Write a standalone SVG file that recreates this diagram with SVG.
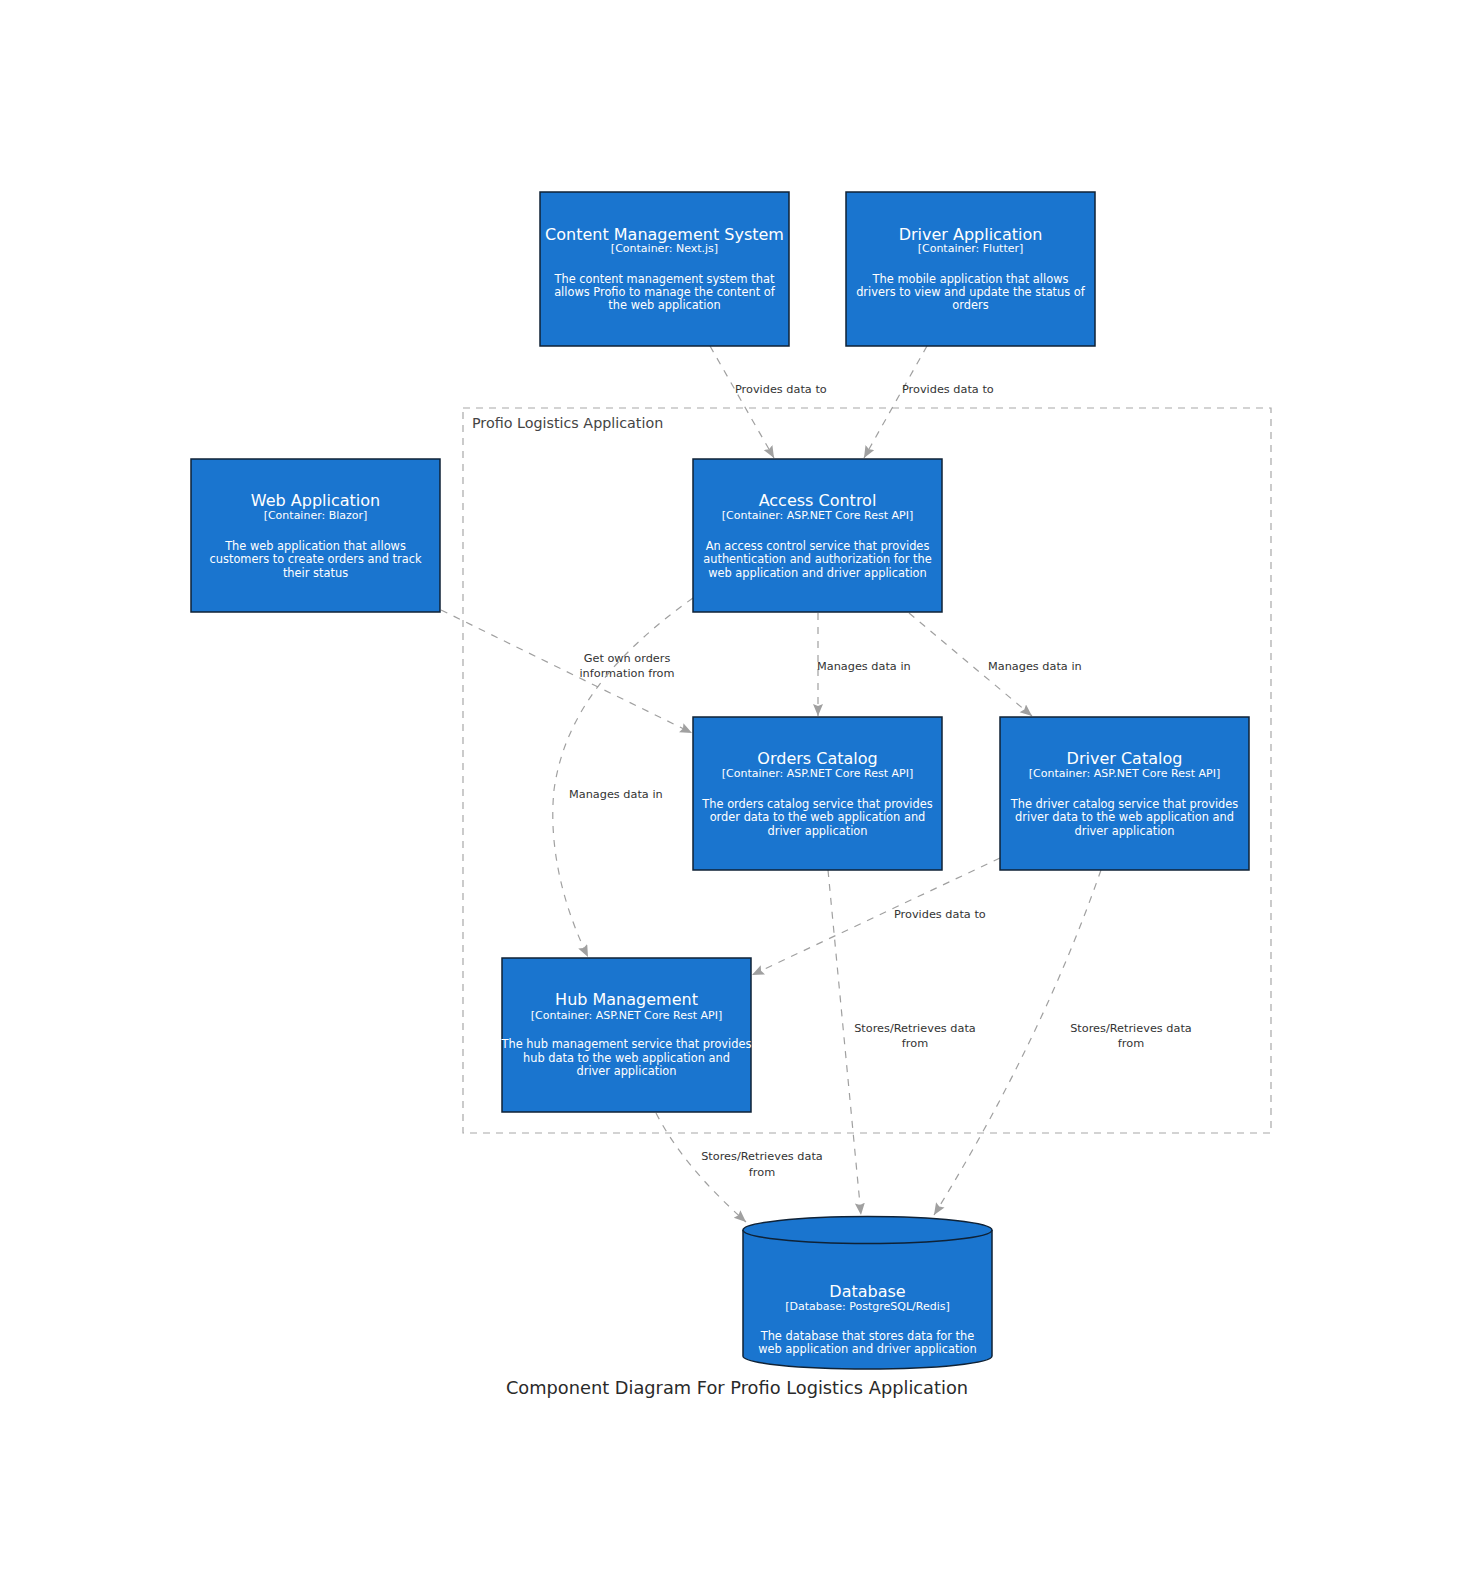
<svg xmlns="http://www.w3.org/2000/svg" width="1474" height="1596" viewBox="0 0 1474 1596">
<style>
.box{fill:#1A75CF;stroke:#0F2236;stroke-width:1.5}
.t{font-family:"DejaVu Sans",Verdana,sans-serif;fill:#FFFFFF;text-anchor:middle}
.tt{font-size:16px}
.ts{font-size:11px}
.td{font-size:11.4px}
.edge{fill:none;stroke:#A0A0A0;stroke-width:1.2;stroke-dasharray:7 7}
.lbl{font-family:"DejaVu Sans",Verdana,sans-serif;font-size:11.3px;fill:#333333}
.bnd{fill:none;stroke:#A8A8A8;stroke-width:1.2;stroke-dasharray:7 6}
</style>
<defs>
<marker id="arr" markerUnits="userSpaceOnUse" markerWidth="14" markerHeight="12" refX="12" refY="5" orient="auto">
<path d="M0,0 L12,5 L0,10 L2,5 Z" fill="#A0A0A0"/>
</marker>
</defs>
<rect width="1474" height="1596" fill="#FFFFFF"/>

<g id="boundary">
<rect class="bnd" x="463" y="408" width="808" height="725"/>
<text x="472" y="428" font-family="DejaVu Sans,Verdana,sans-serif" font-size="14.3px" fill="#444444">Profio Logistics Application</text>
</g>

<g id="connectors">
<path class="edge" marker-end="url(#arr)" d="M710,346 L774,458"/>
<text class="lbl" x="735" y="393">Provides data to</text>
<path class="edge" marker-end="url(#arr)" d="M927,346 L864,458"/>
<text class="lbl" x="902" y="393">Provides data to</text>
<path class="edge" marker-end="url(#arr)" d="M441,610 L692,733"/>
<text class="lbl" x="627" y="662" text-anchor="middle">Get own orders</text>
<text class="lbl" x="627" y="677" text-anchor="middle">information from</text>
<path class="edge" marker-end="url(#arr)" d="M818,613 L818,716"/>
<text class="lbl" x="817" y="670">Manages data in</text>
<path class="edge" marker-end="url(#arr)" d="M909,613 L1032,716"/>
<text class="lbl" x="988" y="670">Manages data in</text>
<path class="edge" marker-end="url(#arr)" d="M693,598 C620,650 565,710 554,790 C548,850 565,910 588,957"/>
<text class="lbl" x="569" y="798">Manages data in</text>
<path class="edge" marker-end="url(#arr)" d="M1000,858 L752,975"/>
<text class="lbl" x="894" y="918">Provides data to</text>
<path class="edge" marker-end="url(#arr)" d="M828,870 L861,1215"/>
<text class="lbl" x="915" y="1032" text-anchor="middle">Stores/Retrieves data</text>
<text class="lbl" x="915" y="1047" text-anchor="middle">from</text>
<path class="edge" marker-end="url(#arr)" d="M1101,870 Q1041,1042 934,1215"/>
<text class="lbl" x="1131" y="1032" text-anchor="middle">Stores/Retrieves data</text>
<text class="lbl" x="1131" y="1047" text-anchor="middle">from</text>
<path class="edge" marker-end="url(#arr)" d="M656,1113 Q683,1166 746,1222"/>
<text class="lbl" x="762" y="1160" text-anchor="middle">Stores/Retrieves data</text>
<text class="lbl" x="762" y="1176" text-anchor="middle">from</text>
</g>

<g id="cms">
<rect class="box" x="540" y="192" width="249" height="154"/>
<text class="t tt" x="664.5" y="240">Content Management System</text>
<text class="t ts" x="664.5" y="252">[Container: Next.js]</text>
<text class="t td" x="664.5" y="283">The content management system that</text>
<text class="t td" x="664.5" y="296">allows Profio to manage the content of</text>
<text class="t td" x="664.5" y="309">the web application</text>
</g>

<g id="driver-app">
<rect class="box" x="846" y="192" width="249" height="154"/>
<text class="t tt" x="970.5" y="240">Driver Application</text>
<text class="t ts" x="970.5" y="252">[Container: Flutter]</text>
<text class="t td" x="970.5" y="283">The mobile application that allows</text>
<text class="t td" x="970.5" y="296">drivers to view and update the status of</text>
<text class="t td" x="970.5" y="309">orders</text>
</g>

<g id="web-app">
<rect class="box" x="191" y="459" width="249" height="153"/>
<text class="t tt" x="315.5" y="506">Web Application</text>
<text class="t ts" x="315.5" y="519">[Container: Blazor]</text>
<text class="t td" x="315.5" y="550">The web application that allows</text>
<text class="t td" x="315.5" y="563">customers to create orders and track</text>
<text class="t td" x="315.5" y="577">their status</text>
</g>

<g id="access-control">
<rect class="box" x="693" y="459" width="249" height="153"/>
<text class="t tt" x="817.5" y="506">Access Control</text>
<text class="t ts" x="817.5" y="519">[Container: ASP.NET Core Rest API]</text>
<text class="t td" x="817.5" y="550">An access control service that provides</text>
<text class="t td" x="817.5" y="563">authentication and authorization for the</text>
<text class="t td" x="817.5" y="577">web application and driver application</text>
</g>

<g id="orders-catalog">
<rect class="box" x="693" y="717" width="249" height="153"/>
<text class="t tt" x="817.5" y="764">Orders Catalog</text>
<text class="t ts" x="817.5" y="777">[Container: ASP.NET Core Rest API]</text>
<text class="t td" x="817.5" y="808">The orders catalog service that provides</text>
<text class="t td" x="817.5" y="821">order data to the web application and</text>
<text class="t td" x="817.5" y="835">driver application</text>
</g>

<g id="driver-catalog">
<rect class="box" x="1000" y="717" width="249" height="153"/>
<text class="t tt" x="1124.5" y="764">Driver Catalog</text>
<text class="t ts" x="1124.5" y="777">[Container: ASP.NET Core Rest API]</text>
<text class="t td" x="1124.5" y="808">The driver catalog service that provides</text>
<text class="t td" x="1124.5" y="821">driver data to the web application and</text>
<text class="t td" x="1124.5" y="835">driver application</text>
</g>

<g id="hub-management">
<rect class="box" x="502" y="958" width="249" height="154"/>
<text class="t tt" x="626.5" y="1005">Hub Management</text>
<text class="t ts" x="626.5" y="1019">[Container: ASP.NET Core Rest API]</text>
<text class="t td" x="626.5" y="1048">The hub management service that provides</text>
<text class="t td" x="626.5" y="1062">hub data to the web application and</text>
<text class="t td" x="626.5" y="1075">driver application</text>
</g>

<g id="database">
<path class="box" d="M743,1230 A124.5,13.5 0 0,1 992,1230 L992,1356 A124.5,13 0 0,1 743,1356 Z"/>
<path d="M743,1230 A124.5,13.5 0 0,0 992,1230" fill="none" stroke="#0F2236" stroke-width="1.5"/>
<text class="t tt" x="867.5" y="1297">Database</text>
<text class="t ts" x="867.5" y="1310">[Database: PostgreSQL/Redis]</text>
<text class="t td" x="867.5" y="1340">The database that stores data for the</text>
<text class="t td" x="867.5" y="1353">web application and driver application</text>
</g>

<text id="caption" x="737" y="1394" font-family="DejaVu Sans,Verdana,sans-serif" font-size="17.8px" fill="#2A2A2A" text-anchor="middle">Component Diagram For Profio Logistics Application</text>
</svg>
